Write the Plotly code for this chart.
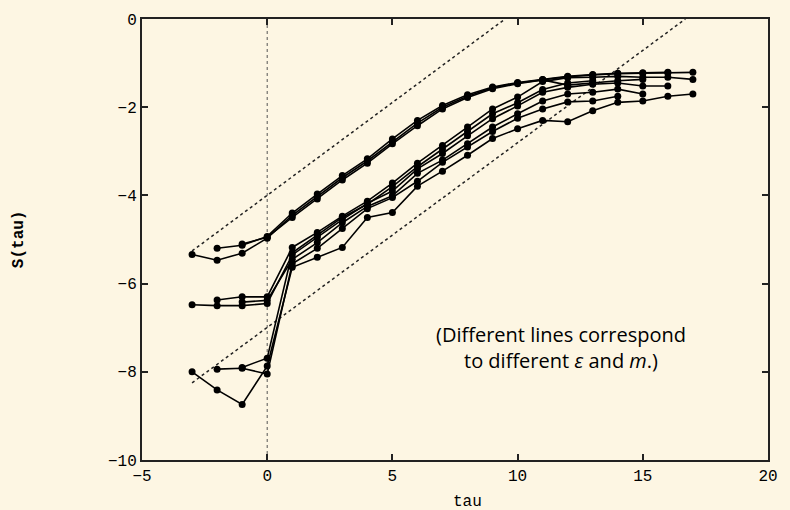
import plotly.graph_objects as go

# ---- data ----
a1_tau0 = -3
a1_s = [-5.34, -5.47, -5.31, -4.97, -4.45, -4.03, -3.60, -3.22, -2.78, -2.36, -2.00,
        -1.75, -1.56, -1.45, -1.38, -1.31, -1.27, -1.24, -1.23, -1.22, -1.21]
a2_tau0 = -2
a2_s = [-5.20, -5.13, -4.93, -4.40, -3.97, -3.55, -3.17, -2.72, -2.30, -1.96, -1.72,
        -1.54, -1.44, -1.37, -1.30, -1.26, -1.23, -1.22, -1.21]
a3_tau0 = -1
a3_s = [-5.10, -4.95, -4.50, -4.08, -3.65, -3.27, -2.83, -2.42, -2.04, -1.78, -1.58,
        -1.47, -1.38, -1.50, -1.45, -1.40, -1.37]
b1_tau0 = -3
b1_s = [-6.48, -6.50, -6.50, -6.45, -5.35, -4.95, -4.55, -4.18, -3.90, -3.40, -3.05,
        -2.65, -2.26, -1.97, -1.66, -1.55, -1.48, -1.45, -1.52, -1.52]
b2_tau0 = -2
b2_s = [-6.37, -6.30, -6.30, -5.18, -4.84, -4.47, -4.13, -3.72, -3.27, -2.87, -2.45,
        -2.04, -1.77, -1.42, -1.33, -1.32, -1.30, -1.32, -1.32, -1.37]
b3_tau0 = -1
b3_s = [-6.42, -6.38, -5.45, -5.07, -4.62, -4.25, -4.01, -3.50, -3.20, -2.83, -2.45,
        -2.15, -1.86, -1.70, -1.66, -1.59, -1.70]
c1_tau0 = -3
c1_s = [-8.00, -8.41, -8.74, -7.87, -5.63, -5.40, -5.18, -4.50, -4.39, -3.79, -3.45,
        -3.09, -2.71, -2.49, -2.30, -2.33, -2.08, -1.89, -1.86, -1.75, -1.70]
c2_tau0 = -2
c2_s = [-7.94, -7.92, -8.05, -5.55, -5.20, -4.75, -4.30, -4.05, -3.68, -3.25, -2.90,
        -2.55, -2.25, -2.04, -1.88, -1.86, -1.75]
c3_tau0 = -1
c3_s = [-7.90, -7.69, -5.30, -4.90, -4.50, -4.20, -3.80, -3.35, -2.95, -2.55, -2.15,
        -1.90, -1.60, -1.45, -1.40]

upper_guide_tau = [-3, 9.5]
upper_guide_s = [-5.26, 0]
lower_guide_tau = [-3, 16.7]
lower_guide_s = [-8.25, 0]
zero_line_tau = [0, 0]
zero_line_s = [-10, 0]

x_ticks = [-5, 0, 5, 10, 15, 20]
y_ticks = [-10, -8, -6, -4, -2, 0]

series = [(a1_tau0, a1_s), (a2_tau0, a2_s), (a3_tau0, a3_s),
          (b1_tau0, b1_s), (b2_tau0, b2_s), (b3_tau0, b3_s),
          (c1_tau0, c1_s), (c2_tau0, c2_s), (c3_tau0, c3_s)]

BG = "#fdf6e3"
MONO = "Liberation Mono, Courier New, monospace"

fig = go.Figure()

# guide lines
fig.add_trace(go.Scatter(x=zero_line_tau, y=zero_line_s, mode="lines",
                         line=dict(color="#555555", width=1, dash="dot"),
                         hoverinfo="skip", showlegend=False))
for gx, gy in [(upper_guide_tau, upper_guide_s), (lower_guide_tau, lower_guide_s)]:
    fig.add_trace(go.Scatter(x=gx, y=gy, mode="lines",
                             line=dict(color="#222222", width=1.5, dash="dot"),
                             hoverinfo="skip", showlegend=False))

for t0, vals in series:
    taus = [t0 + i for i in range(len(vals))]
    fig.add_trace(go.Scatter(x=taus, y=vals, mode="lines+markers",
                             line=dict(color="black", width=1.6),
                             marker=dict(color="black", size=7, symbol="circle"),
                             showlegend=False))

axis_common = dict(showgrid=False, zeroline=False, showline=True, linecolor="#222222",
                   linewidth=2, mirror="ticks", ticks="inside", ticklen=6,
                   tickwidth=1.5, tickcolor="#222222",
                   tickfont=dict(family=MONO, size=16, color="black"))

fig.update_xaxes(range=[-5, 20], tickvals=x_ticks, **axis_common)
fig.update_yaxes(range=[-10, 0], tickvals=y_ticks, **axis_common)

fig.add_annotation(text="tau", xref="paper", yref="paper", x=0.52, y=-0.095,
                   xanchor="center", yanchor="middle", showarrow=False,
                   font=dict(family=MONO, size=16, color="black"))
fig.add_annotation(text="S(tau)", xref="paper", yref="paper", x=-0.197, y=0.5,
                   xanchor="center", yanchor="middle", showarrow=False, textangle=-90,
                   font=dict(family=MONO, size=16, color="black", weight="bold"))
fig.add_annotation(text="(Different lines correspond<br>to different <i>ε</i> and <i>m</i>.)",
                   xref="paper", yref="paper", x=0.669, y=0.256,
                   xanchor="center", yanchor="middle", showarrow=False, align="center",
                   font=dict(family="Open Sans, Noto Sans, sans-serif", size=20, color="black"))

fig.update_layout(width=790, height=510, margin=dict(l=142, r=13, t=14, b=50),
                  paper_bgcolor=BG, plot_bgcolor=BG)

fig.write_html("out.html", config={"displayModeBar": False},
               post_script="document.body.style.margin='0';"
                           "document.body.style.background='#fdf6e3';"
                           "document.body.style.overflow='hidden';")
